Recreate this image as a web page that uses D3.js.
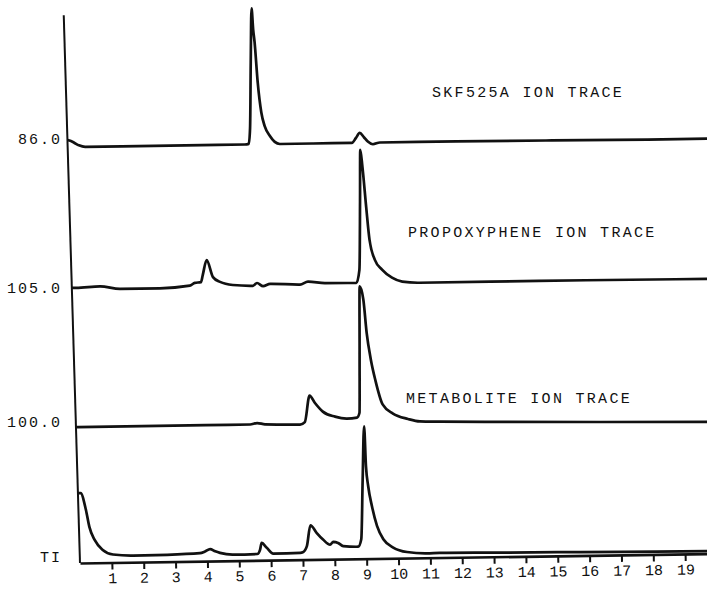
<!DOCTYPE html>
<html>
<head>
<meta charset="utf-8">
<script src="https://cdn.jsdelivr.net/npm/d3@7"></script>
<style>
    body { margin: 0; background: #fff; }
    svg text { font-family: "Liberation Mono", "DejaVu Sans Mono", monospace; fill: #111; }
</style>
</head>
<body>
<svg id="chart" width="707" height="592"></svg>
<script>
// retention time ticks (minutes)
const tickMinutes = [1, 2, 3, 4, 5, 6, 7, 8, 9, 10, 11, 12, 13, 14, 15, 16, 17, 18, 19];

// ion traces, heights in % of chart height above each trace's own baseline
const skfTimes = [-0.21, -0.1, 0.0, 0.15, 0.35, 1.5, 3.0, 4.5, 5.36, 5.48, 5.53, 5.58, 5.63, 5.67, 5.71, 5.79, 5.89, 5.99, 6.15, 6.3, 6.46, 7.5, 8.72, 8.85, 8.97, 9.1, 9.22, 9.38, 9.6, 12, 15, 18, 19.9];
const skfValues = [1.3, 1.1, 0.8, 0.3, 0, 0, 0, 0, 0, 0.1, 3, 15, 24.8, 21, 18.6, 11.3, 5.8, 3.3, 1.5, 0.4, 0, 0, 0, 0.9, 1.8, 1.0, 0.2, -0.3, 0, 0, -0.1, -0.2, -0.2];

const propTimes = [-0.14, 0.0, 0.75, 1.38, 2.63, 3.57, 3.73, 3.92, 3.98, 4.11, 4.30, 4.52, 4.92, 5.55, 5.68, 5.87, 6.09, 7.03, 7.28, 7.81, 8.8, 8.9, 8.95, 8.98, 9.04, 9.14, 9.23, 9.39, 9.61, 9.92, 10.24, 10.77, 13, 16, 19.9];
const propValues = [0, 0, 0.2, -0.3, -0.3, 0.1, 0.6, 0.7, 2.0, 4.7, 1.6, 0.7, 0.1, -0.1, 0.4, -0.2, 0.2, 0, 0.5, 0.2, 0.15, 2.5, 15, 24.4, 21.3, 14, 8, 4.3, 2.5, 1.0, 0.25, 0, 0, 0, -0.1];

const metaTimes = [-0.07, 0.0, 2.0, 4.0, 5.4, 5.62, 5.87, 6.97, 7.12, 7.28, 7.44, 7.69, 8.07, 8.44, 8.76, 8.84, 8.87, 8.9, 9.01, 9.1, 9.22, 9.35, 9.57, 9.89, 10.36, 10.73, 11.36, 13.25, 16.39, 19.9];
const metaValues = [0, 0, 0, 0, 0, 0.25, 0, -0.15, 0.3, 5.1, 3.8, 2.15, 1.2, 0.8, 0.97, 1.85, 13, 24.9, 22.5, 16.4, 11.5, 7.8, 3.3, 1.6, 0.58, 0.1, 0, -0.2, -0.5, -0.8];

const tiTimes = [-0.03, 0.05, 0.21, 0.31, 0.47, 0.72, 1.04, 1.67, 2.74, 3.77, 3.93, 4.09, 4.25, 4.40, 4.81, 5.57, 5.66, 5.71, 5.87, 6.07, 6.92, 7.0, 7.13, 7.25, 7.44, 7.64, 7.86, 7.96, 8.11, 8.27, 8.74, 8.84, 8.91, 8.98, 9.02, 9.08, 9.19, 9.34, 9.54, 9.84, 10.27, 10.9, 11.3, 13, 15, 17, 19.9];
const tiValues = [11.3, 11.3, 8.2, 5.1, 2.7, 0.86, 0, -0.25, -0.2, 0, 0.3, 0.73, 0.3, 0, -0.36, -0.3, 0.5, 1.7, 0.8, -0.27, -0.2, -0.1, 1.0, 4.8, 3.4, 2.15, 1.2, 1.7, 1.5, 0.9, 0.75, 2.1, 13, 22.7, 15.4, 11.8, 8.1, 4.5, 2.0, 0.5, -0.35, -0.64, -0.6, -0.7, -0.8, -0.9, -1.0];

const traceNames = ["SKF525A ION TRACE", "PROPOXYPHENE ION TRACE", "METABOLITE ION TRACE", ""];
const massLabels = ["86.0", "105.0", "100.0", "TI"];
const traceBaselines = [75.9, 50.2, 24.8, 1.46];

const traces = [
    {times: skfTimes, values: skfValues},
    {times: propTimes, values: propValues},
    {times: metaTimes, values: metaValues},
    {times: tiTimes, values: tiValues}
];

// layout
const titlePos = [[432, 97], [408, 237], [406, 403], null];
const massNudge = [-3, 5, 0, 7];

const svg = d3.select("#chart");

const x = d3.scaleLinear().domain([0, 19.75]).range([80, 709]);
const y = d3.scaleLinear().domain([0, 100]).range([563, 15]);
const ox = x(0), oy = y(0);

// the scanned paper is a little skewed
const plot = svg.append("g")
    .attr("transform", `translate(${ox},${oy}) matrix(1,-0.015,0.014,1,0,0) translate(${-ox},${-oy})`);

// vertical axis, drawn a bit more slanted than the traces
svg.append("g")
    .attr("transform", `rotate(-1.7,${ox},${oy})`)
    .append("line")
    .attr("x1", ox).attr("y1", y(0))
    .attr("x2", ox).attr("y2", y(100))
    .attr("stroke", "#111")
    .attr("stroke-width", 2);

const xAxis = plot.append("g")
    .attr("transform", `translate(0,${oy})`)
    .call(d3.axisBottom(x).tickValues(tickMinutes).tickSize(7).tickSizeOuter(0).tickPadding(3));

xAxis.select(".domain").attr("stroke", "#111").attr("stroke-width", 2.6);
xAxis.selectAll(".tick line").attr("stroke", "#111").attr("stroke-width", 2);
xAxis.selectAll(".tick text")
    .attr("fill", "#111")
    .style("font-size", "15px");

traces.forEach((tr, i) => {
    const pts = tr.times.map((t, k) => [t, tr.values[k]]);
    const line = d3.line()
        .x(d => x(d[0]))
        .y(d => y(traceBaselines[i] + d[1]))
        .curve(d3.curveMonotoneX);

    plot.append("path")
        .datum(pts)
        .attr("d", line)
        .attr("fill", "none")
        .attr("stroke", "#111")
        .attr("stroke-width", 2.7)
        .attr("stroke-linejoin", "round");

    svg.append("text")
        .attr("x", 62)
        .attr("y", y(traceBaselines[i]) + massNudge[i])
        .attr("text-anchor", "end")
        .style("font-size", "15px")
        .style("letter-spacing", "2px")
        .text(massLabels[i]);

    if (titlePos[i]) {
        svg.append("text")
            .attr("x", titlePos[i][0])
            .attr("y", titlePos[i][1])
            .style("font-size", "15px")
            .style("letter-spacing", "2.3px")
            .text(traceNames[i]);
    }
});
</script>
</body>
</html>
